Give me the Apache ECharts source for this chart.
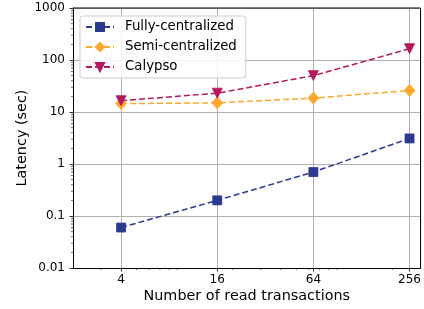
<!DOCTYPE html>
<html>
<head>
<meta charset="utf-8">
<script src="https://cdn.jsdelivr.net/npm/echarts@6/dist/echarts.min.js"></script>
<style>
html,body{margin:0;padding:0;background:#fff;}
#chart{width:424px;height:309px;}
</style>
</head>
<body>
<div id="chart"></div>
<script>
// Data
var categories = [4, 16, 64, 256];
var fullyCentralized = [0.06, 0.2, 0.7, 3.1];
var semiCentralized = [14.5, 15, 18.5, 26];
var calypso = [16.5, 23, 50, 165];
var seriesNames = ['Fully-centralized', 'Semi-centralized', 'Calypso'];
// Tick lists
var yTickLabels = ['0.01', '0.1', '1', '10', '100', '1000'];
var xMinorTicks = [3, 5, 6, 7, 8, 9, 20, 30, 40, 50, 60, 70, 80, 90, 200];
var yMinorMultipliers = [2, 3, 4, 5, 6, 7, 8, 9];
var yDecades = [0.01, 0.1, 1, 10, 100];

var X_MIN = 2, X_MAX = 300, Y_MIN = 0.01, Y_MAX = 1000;
var FONT = 'DejaVu Sans';

function pairs(xs, ys) { return xs.map(function (x, i) { return [x, ys[i]]; }); }

var yMinorTicks = [];
yDecades.forEach(function (d) {
  yMinorMultipliers.forEach(function (m) { yMinorTicks.push(+(m * d).toPrecision(3)); });
});

var minorData = xMinorTicks.map(function (v) { return [v, Y_MIN, 0]; })
  .concat(yMinorTicks.map(function (v) { return [X_MIN, v, 1]; }));

var chart = echarts.init(document.getElementById('chart'), null, {renderer: 'canvas'});
var lineCommon = function (name, data, color, symbol, size, rotate) {
  return {
    name: name, type: 'line', data: pairs(categories, data),
    symbol: symbol, symbolSize: size, symbolRotate: rotate || 0,
    lineStyle: {color: color, width: 1.5, type: [6, 3]},
    itemStyle: {color: color, borderColor: color, borderWidth: 0.8},
    emphasis: {disabled: true}, animation: false, z: 3
  };
};

chart.setOption({
  animation: false,
  grid: {left: 73, right: 3, top: 8, bottom: 41, containLabel: false},
  legend: {
    data: seriesNames,
    left: 80, top: 16, orient: 'vertical',
    padding: [4, 9, 4, 5],
    itemWidth: 28, itemHeight: 10, itemGap: 6,
    backgroundColor: 'rgba(255,255,255,0.85)',
    borderColor: '#cccccc', borderWidth: 1, borderRadius: 3,
    textStyle: {fontFamily: FONT, fontSize: 13.3, color: '#000', lineHeight: 14, padding: [0, 0, 0, 6]},
    selectedMode: false
  },
  xAxis: {
    type: 'log', logBase: 4, min: X_MIN, max: X_MAX,
    name: 'Number of read transactions', nameLocation: 'middle', nameGap: 21,
    nameMoveOverlap: false,
    nameTextStyle: {fontFamily: FONT, fontSize: 14.4, color: '#000'},
    axisLine: {show: true, onZero: false, lineStyle: {color: '#000', width: 1}},
    axisTick: {show: true, inside: false, length: 3.5, lineStyle: {color: '#000', width: 0.8}},
    axisLabel: {fontFamily: FONT, fontSize: 12, color: '#000', margin: 6, showMinLabel: false, showMaxLabel: false},
    splitLine: {show: true, lineStyle: {color: '#b0b0b0', width: 1}},
    minorTick: {show: false}
  },
  yAxis: {
    type: 'log', logBase: 10, min: Y_MIN, max: Y_MAX,
    name: 'Latency (sec)', nameLocation: 'middle', nameGap: 44,
    nameMoveOverlap: false,
    nameTextStyle: {fontFamily: FONT, fontSize: 14.4, color: '#000'},
    axisLine: {show: true, onZero: false, lineStyle: {color: '#000', width: 1}},
    axisTick: {show: true, inside: false, length: 3.5, lineStyle: {color: '#000', width: 0.8}},
    axisLabel: {fontFamily: FONT, fontSize: 12, color: '#000', margin: 8,
      formatter: function (v) {
        var idx = Math.round(Math.log10(v)) + 2;
        return yTickLabels[idx] !== undefined ? yTickLabels[idx] : String(v);
      }},
    splitLine: {show: true, lineStyle: {color: '#b0b0b0', width: 1}}
  },
  series: [
    lineCommon(seriesNames[0], fullyCentralized, '#2b3990', 'rect', 9),
    lineCommon(seriesNames[1], semiCentralized, '#fca72e', 'diamond', [11, 12]),
    lineCommon(seriesNames[2], calypso, '#b2185b', 'triangle', 10, 180),
    {
      type: 'custom', data: minorData, clip: false, silent: true, z: 5,
      encode: {x: 0, y: 1},
      renderItem: function (params, api) {
        var p = api.coord([api.value(0), api.value(1)]);
        var isY = api.value(2) === 1;
        return {
          type: 'line',
          shape: isY ? {x1: p[0] - 2, y1: p[1], x2: p[0], y2: p[1]} : {x1: p[0], y1: p[1], x2: p[0], y2: p[1] + 2},
          style: {stroke: '#000', lineWidth: 0.6}
        };
      }
    },
    {
      // right/top frame
      type: 'custom', data: [[X_MIN, Y_MIN, X_MAX, Y_MAX]], clip: false, silent: true, z: 5,
      encode: {x: [0, 2], y: [1, 3]},
      renderItem: function (params, api) {
        var a = api.coord([api.value(0), api.value(1)]);
        var b = api.coord([api.value(2), api.value(3)]);
        return {type: 'polyline', shape: {points: [[a[0], b[1]], [b[0], b[1]], [b[0], a[1]]]},
          style: {stroke: '#000', lineWidth: 1, fill: null}};
      }
    }
  ]
});
</script>
</body>
</html>
